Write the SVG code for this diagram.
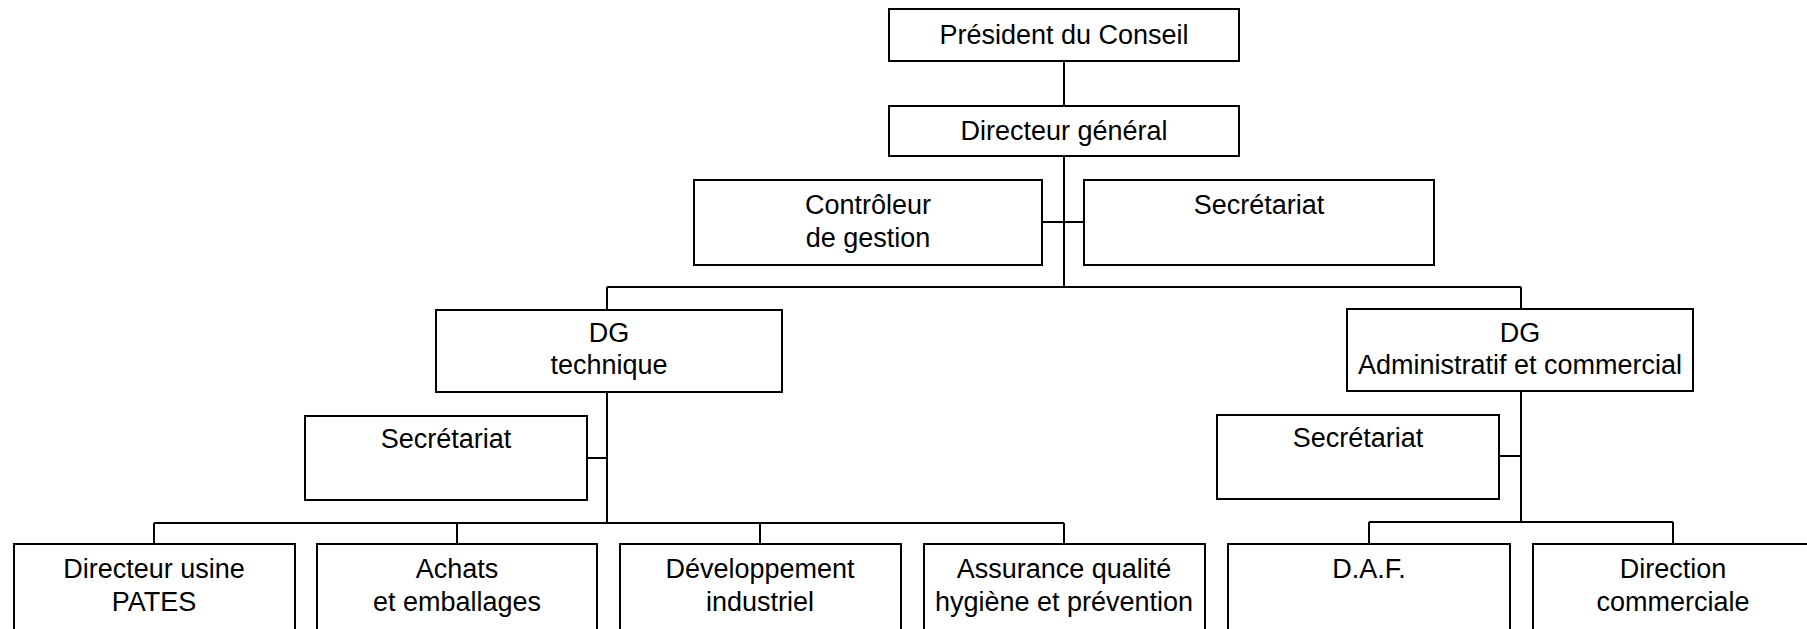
<svg xmlns="http://www.w3.org/2000/svg" width="1807" height="629" viewBox="0 0 1807 629">
<style>
.box{fill:#fff;stroke:#000;stroke-width:2}
.ln{fill:none;stroke:#000;stroke-width:2}
text{font-family:"Liberation Sans",Arial,sans-serif;font-size:27px;fill:#000;text-anchor:middle}
</style>
<rect width="1807" height="629" fill="#fff"/>
<g id="connectors">
<path class="ln" d="M1064,61 V106"/>
<path class="ln" d="M1064,156 V287"/>
<path class="ln" d="M1042,222 H1084"/>
<path class="ln" d="M607,287 H1521"/>
<path class="ln" d="M607,287 V310"/>
<path class="ln" d="M1521,287 V309"/>
<path class="ln" d="M607,392 V523"/>
<path class="ln" d="M587,458 H607"/>
<path class="ln" d="M154,523 H1064"/>
<path class="ln" d="M154,523 V544"/>
<path class="ln" d="M457,523 V544"/>
<path class="ln" d="M760,523 V544"/>
<path class="ln" d="M1064,523 V544"/>
<path class="ln" d="M1521,391 V522"/>
<path class="ln" d="M1499,456 H1521"/>
<path class="ln" d="M1369,522 H1673"/>
<path class="ln" d="M1369,522 V544"/>
<path class="ln" d="M1673,522 V544"/>
</g>
<g id="president"><rect class="box" x="889" y="9" width="350" height="52"/><text x="1064" y="44">Président du Conseil</text></g>
<g id="dg"><rect class="box" x="889" y="106" width="350" height="50"/><text x="1064" y="140">Directeur général</text></g>
<g id="controleur"><rect class="box" x="694" y="180" width="348" height="85"/><text x="868" y="214">Contrôleur</text><text x="868" y="247">de gestion</text></g>
<g id="secretariat-dg"><rect class="box" x="1084" y="180" width="350" height="85"/><text x="1259" y="214">Secrétariat</text></g>
<g id="dg-technique"><rect class="box" x="436" y="310" width="346" height="82"/><text x="609" y="342">DG</text><text x="609" y="374">technique</text></g>
<g id="dg-admin"><rect class="box" x="1347" y="309" width="346" height="82"/><text x="1520" y="342">DG</text><text x="1520" y="374">Administratif et commercial</text></g>
<g id="secretariat-tech"><rect class="box" x="305" y="416" width="282" height="84"/><text x="446" y="448">Secrétariat</text></g>
<g id="secretariat-admin"><rect class="box" x="1217" y="415" width="282" height="84"/><text x="1358" y="447">Secrétariat</text></g>
<g id="usine"><rect class="box" x="14" y="544" width="281" height="100"/><text x="154" y="578">Directeur usine</text><text x="154" y="611">PATES</text></g>
<g id="achats"><rect class="box" x="317" y="544" width="280" height="100"/><text x="457" y="578">Achats</text><text x="457" y="611">et emballages</text></g>
<g id="developpement"><rect class="box" x="620" y="544" width="281" height="100"/><text x="760" y="578">Développement</text><text x="760" y="611">industriel</text></g>
<g id="assurance"><rect class="box" x="924" y="544" width="281" height="100"/><text x="1064" y="578">Assurance qualité</text><text x="1064" y="611">hygiène et prévention</text></g>
<g id="daf"><rect class="box" x="1228" y="544" width="282" height="100"/><text x="1369" y="578">D.A.F.</text></g>
<g id="commerciale"><rect class="box" x="1533" y="544" width="282" height="100"/><text x="1673" y="578">Direction</text><text x="1673" y="611">commerciale</text></g>
</svg>
